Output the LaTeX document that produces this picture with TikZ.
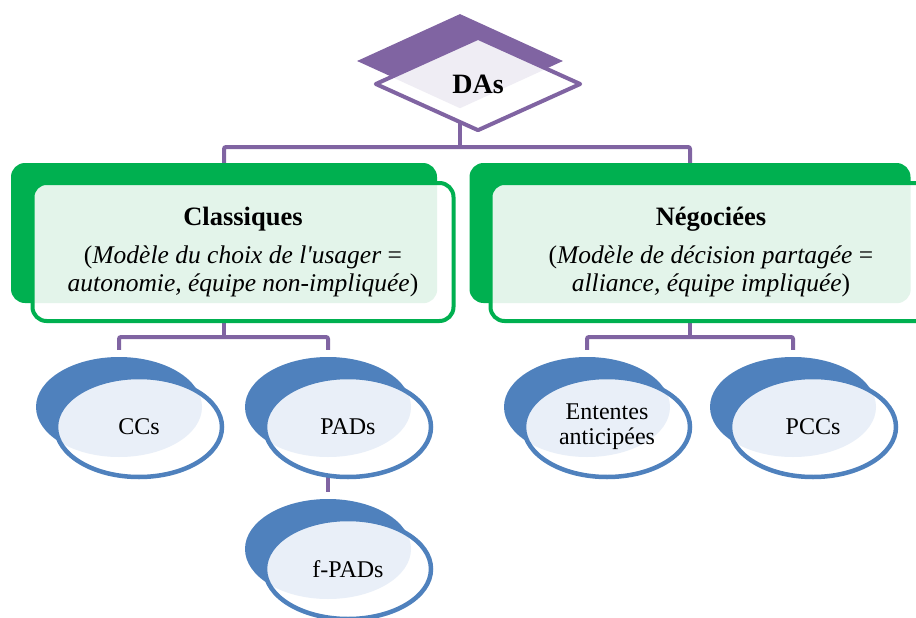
\documentclass[tikz,border=0pt]{standalone}
\usepackage{fontspec}
\setmainfont{Liberation Serif}[Ligatures=TeXOff]
\usepackage{tikz}
\usetikzlibrary{shapes.geometric,backgrounds}

\definecolor{dapurple}{HTML}{8064A2}
\definecolor{dalavender}{HTML}{EFEDF4}
\definecolor{dagreen}{HTML}{00B050}
\definecolor{dalightgreen}{HTML}{E3F4EA}
\definecolor{dablue}{HTML}{4F81BD}
\definecolor{dalightblue}{HTML}{E9EFF8}

\begin{document}
\begin{tikzpicture}[x=1pt,y=-1pt,
    link/.style={line width=4pt, draw=dapurple, rounded corners=2pt},
    bgdiamond/.style={diamond, minimum width=206pt, minimum height=94pt, inner sep=0pt, fill=dapurple},
    fgdiamond/.style={diamond, minimum width=206pt, minimum height=94pt, inner sep=0pt,
        fill=white, draw=dapurple, line width=4pt, line join=round,
        path picture={\fill[dalavender] (#1.north) -- (#1.east) -- (#1.south) -- (#1.west) -- cycle;},
        font=\fontsize{28}{32}\selectfont\bfseries},
    bgbox/.style={rectangle, rounded corners=14pt, minimum height=140pt, fill=dagreen},
    fgbox/.style={rectangle, rounded corners=14pt, minimum height=138pt,
        fill=white, draw=dagreen, line width=4pt,
        path picture={\fill[dalightgreen, rounded corners=14pt] (#1.south west) rectangle (#1.north east);},
        align=center, font=\fontsize{25.5}{28}\selectfont},
    bgoval/.style={ellipse, minimum width=166pt, minimum height=100pt, inner sep=0pt, fill=dablue},
    fgoval/.style={ellipse, minimum width=166pt, minimum height=100pt, inner sep=0pt,
        fill=white, draw=dablue, line width=4.5pt,
        path picture={\fill[dalightblue] (#1.center) ellipse [x radius=83, y radius=50];},
        align=center, font=\fontsize{24}{25}\selectfont}
]
\useasboundingbox (0,0) rectangle (916,618);

% top
\node [bgdiamond] (dasbg) at (460,61) {};
\node [fgdiamond=dasbg] (das) at (478,84) {DAs};

% second level
\node [bgbox, minimum width=426pt] (clsbg) at (224,233) {};
\node [fgbox=clsbg, minimum width=421pt] (cls) at (243,252)
    {{\fontsize{26.5}{28}\selectfont\bfseries Classiques}\\[10pt](\textit{Modèle du choix de l'usager} =\\\textit{autonomie, équipe non-impliquée})};

\node [bgbox, minimum width=441pt] (negbg) at (690,233) {};
\node [fgbox=negbg, minimum width=441pt] (neg) at (711,252)
    {{\fontsize{26.5}{28}\selectfont\bfseries Négociées}\\[10pt](\textit{Modèle de décision partagée} =\\\textit{alliance, équipe impliquée})};

% third level
\node [bgoval] (ccsbg) at (119,407) {};
\node [fgoval=ccsbg] (ccs) at (139,427) {CCs};

\node [bgoval] (padsbg) at (328,407) {};
\node [fgoval=padsbg] (pads) at (348,427) {PADs};

\node [bgoval] (fpadsbg) at (328,549) {};
\node [fgoval=fpadsbg] (fpads) at (348,569) {f-PADs};

\node [bgoval] (entbg) at (587,407) {};
\node [fgoval=entbg] (ent) at (607,427) {Ententes\\anticipées};

\node [bgoval] (pccbg) at (793,407) {};
\node [fgoval=pccbg] (pcc) at (813,427) {PCCs};

% connectors behind the shapes
\begin{pgfonlayer}{background}
\coordinate (jA) at (460,147);
\coordinate (jB) at (224,337);
\coordinate (jC) at (690,337);
\draw [link] (dasbg.center) -- (jA);
\draw [link] (clsbg.north) |- (jA) -| (negbg.north);
\draw [link] (clsbg.center) -- (jB);
\draw [link, shorten <=7pt, shorten >=7pt] (ccsbg.north) |- (jB) -| (padsbg.north);
\draw [link, shorten >=7pt] (padsbg.center) -- (fpadsbg.north);
\draw [link] (negbg.center) -- (jC);
\draw [link, shorten <=7pt, shorten >=7pt] (entbg.north) |- (jC) -| (pccbg.north);
\end{pgfonlayer}

\end{tikzpicture}
\end{document}
